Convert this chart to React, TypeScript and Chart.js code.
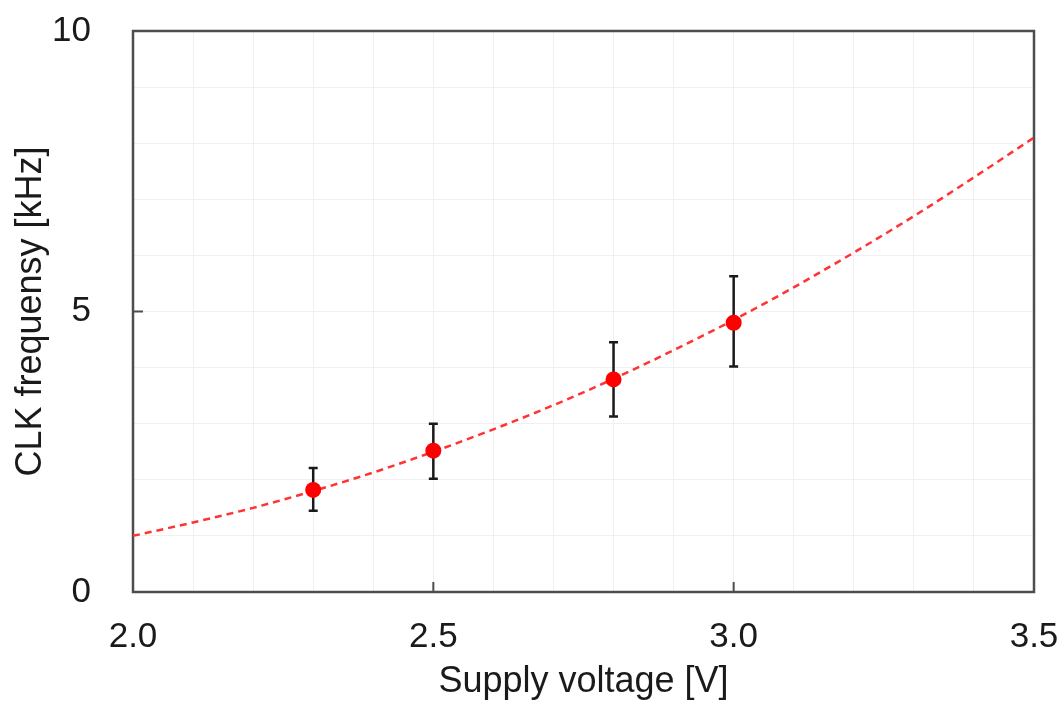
import React, { useEffect, useRef } from "react";
import { Chart, registerables } from "chart.js";

Chart.register(...registerables);

// Measured data
const measX = [2.3, 2.5, 2.8, 3.0];
const measY = [1.82, 2.52, 3.79, 4.8];
const errLow = [1.45, 2.02, 3.13, 4.02];
const errHigh = [2.21, 3.0, 4.45, 5.63];

// Fitted curve
const fitX = [2.0, 2.1, 2.2, 2.3, 2.4, 2.5, 2.6, 2.7, 2.8, 2.9, 3.0, 3.1, 3.2, 3.3, 3.4, 3.5];
const fitY = [1.0, 1.24, 1.5, 1.8, 2.13, 2.5, 2.9, 3.33, 3.8, 4.31, 4.85, 5.43, 6.05, 6.7, 7.39, 8.1];

const xMajor = [2.0, 2.5, 3.0, 3.5];
const yMajor = [0, 5, 10];

const xTitle = "Supply voltage [V]";
const yTitle = "CLK frequensy [kHz]";

const FONT = "'Liberation Sans', Arial, sans-serif";
const TEXT = "#1a1a1a";
const FRAME = "#4d4d4d";

const isMajor = (v: number, list: number[]) => list.some((m) => Math.abs(m - v) < 1e-6);

const framePlugin = {
  id: "frameAndErrors",
  beforeDatasetsDraw(chart: any) {
    const { ctx, chartArea, scales } = chart;
    const xs = scales.x;
    const ys = scales.y;
    ctx.save();
    // error bars
    ctx.strokeStyle = "#1a1a1a";
    ctx.lineWidth = 2.5;
    for (let i = 0; i < measX.length; i++) {
      const px = xs.getPixelForValue(measX[i]);
      const lo = ys.getPixelForValue(errLow[i]);
      const hi = ys.getPixelForValue(errHigh[i]);
      ctx.beginPath();
      ctx.moveTo(px, lo);
      ctx.lineTo(px, hi);
      ctx.moveTo(px - 4.5, lo);
      ctx.lineTo(px + 4.5, lo);
      ctx.moveTo(px - 4.5, hi);
      ctx.lineTo(px + 4.5, hi);
      ctx.stroke();
    }
    // inward major ticks
    ctx.strokeStyle = FRAME;
    ctx.lineWidth = 2;
    ctx.beginPath();
    for (const v of xMajor) {
      const px = xs.getPixelForValue(v);
      if (px <= chartArea.left + 1 || px >= chartArea.right - 1) continue;
      ctx.moveTo(px, chartArea.bottom);
      ctx.lineTo(px, chartArea.bottom - 10);
    }
    for (const v of yMajor) {
      const py = ys.getPixelForValue(v);
      if (py <= chartArea.top + 1 || py >= chartArea.bottom - 1) continue;
      ctx.moveTo(chartArea.left, py);
      ctx.lineTo(chartArea.left + 10, py);
    }
    ctx.stroke();
    // frame
    ctx.strokeStyle = FRAME;
    ctx.lineWidth = 2.5;
    ctx.strokeRect(
      chartArea.left,
      chartArea.top,
      chartArea.right - chartArea.left,
      chartArea.bottom - chartArea.top
    );
    ctx.restore();
  },
};

export default function App() {
  const ref = useRef<HTMLCanvasElement>(null);
  useEffect(() => {
    document.body.style.margin = "0";
    const canvas = ref.current;
    if (!canvas) return;
    const chart = new Chart(canvas, {
      type: "scatter",
      data: {
        datasets: [
          {
            type: "scatter",
            data: measX.map((x, i) => ({ x, y: measY[i] })),
            backgroundColor: "#ff0000",
            borderColor: "#ff0000",
            pointRadius: 8,
            pointBorderWidth: 0,
            order: 0,
          } as any,
          {
            type: "line",
            data: fitX.map((x, i) => ({ x, y: fitY[i] })),
            borderColor: "#ff3333",
            borderWidth: 2.5,
            borderDash: [7, 5],
            pointRadius: 0,
            fill: false,
            cubicInterpolationMode: "monotone",
            showLine: true,
            order: 1,
          } as any,
        ],
      },
      options: {
        responsive: false,
        maintainAspectRatio: false,
        animation: false,
        layout: { padding: { left: 0, right: 27, top: 31, bottom: 0 } },
        plugins: {
          legend: { display: false },
          tooltip: { enabled: false },
        },
        scales: {
          x: {
            type: "linear",
            min: 2.0,
            max: 3.5,
            afterFit: (s: any) => {
              s.height = 112;
              s.paddingLeft = 0;
              s.paddingRight = 0;
            },
            ticks: {
              stepSize: 0.1,
              autoSkip: false,
              maxRotation: 0,
              padding: 24,
              color: TEXT,
              font: { family: FONT, size: 35 },
              callback: (v: any) => (isMajor(Number(v), xMajor) ? Number(v).toFixed(1) : ""),
            },
            grid: { color: "#f0f0f0", lineWidth: 1, drawTicks: false },
            border: { display: false },
            title: {
              display: true,
              text: xTitle,
              color: TEXT,
              font: { family: FONT, size: 36 },
              padding: { top: 0, bottom: 0 },
            },
          },
          y: {
            type: "linear",
            min: 0,
            max: 10,
            afterFit: (s: any) => {
              s.width = 133;
              s.paddingTop = 0;
              s.paddingBottom = 0;
            },
            ticks: {
              stepSize: 1,
              autoSkip: false,
              padding: 42,
              color: TEXT,
              font: { family: FONT, size: 35 },
              callback: (v: any) => (isMajor(Number(v), yMajor) ? String(v) : ""),
            },
            grid: { color: "#f0f0f0", lineWidth: 1, drawTicks: false },
            border: { display: false },
            title: {
              display: true,
              text: yTitle,
              color: TEXT,
              font: { family: FONT, size: 36 },
              padding: { top: 9, bottom: 0 },
            },
          },
        },
      },
      plugins: [framePlugin],
    } as any);
    return () => chart.destroy();
  }, []);
  return (
    <div style={{ width: 1061, height: 704, background: "#fff" }}>
      <canvas ref={ref} width={1061} height={704} style={{ display: "block" }} />
    </div>
  );
}
